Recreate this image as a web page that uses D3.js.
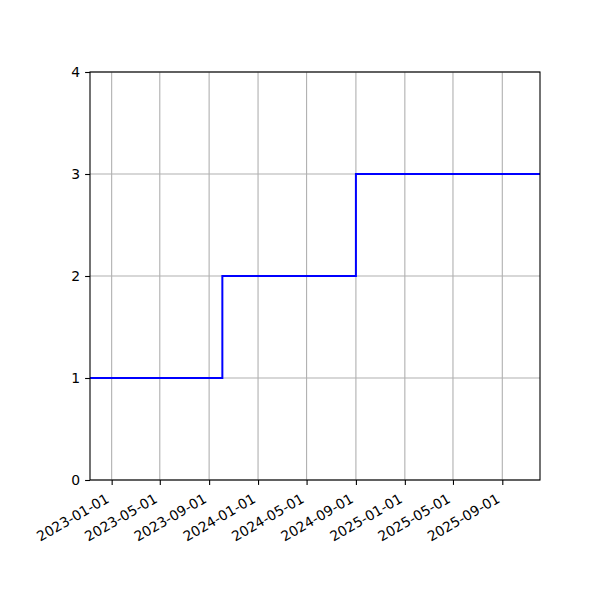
<!DOCTYPE html>
<html>
<head>
<meta charset="utf-8">
<script src="https://cdn.jsdelivr.net/npm/d3@7"></script>
<style>
  body { margin: 0; background: #fff; }
  text { font-family: "DejaVu Sans", sans-serif; }
</style>
</head>
<body>
<svg width="600" height="600"></svg>
<script>
// step data (value holds from each date until the next)
const stepDates = ["2022-11-08", "2023-10-04", "2024-09-01", "2025-12-04"];
const stepValues = [1, 2, 3, 3];
const xTickLabels = ["2023-01-01", "2023-05-01", "2023-09-01", "2024-01-01", "2024-05-01",
  "2024-09-01", "2025-01-01", "2025-05-01", "2025-09-01"];
const yTicks = [0, 1, 2, 3, 4];

const parse = d3.utcParse("%Y-%m-%d");
const data = stepDates.map((d, i) => ({ date: parse(d), value: stepValues[i] }));

const margin = { top: 72, right: 60, bottom: 120, left: 90 };
const width = 600 - margin.left - margin.right;
const height = 600 - margin.top - margin.bottom;

const svg = d3.select("svg");
const g = svg.append("g").attr("transform", `translate(${margin.left},${margin.top})`);

const x = d3.scaleUtc()
  .domain(d3.extent(data, (d) => d.date))
  .range([0, width]);
const y = d3.scaleLinear().domain([0, 4]).range([height, 0]);

// grid
g.append("g")
  .selectAll("line")
  .data(xTickLabels.map(parse))
  .enter()
  .append("line")
  .attr("x1", (d) => x(d)).attr("x2", (d) => x(d))
  .attr("y1", 0).attr("y2", height)
  .attr("stroke", "#b0b0b0").attr("stroke-width", 1.1);
g.append("g")
  .selectAll("line")
  .data(yTicks)
  .enter()
  .append("line")
  .attr("x1", 0).attr("x2", width)
  .attr("y1", (d) => y(d)).attr("y2", (d) => y(d))
  .attr("stroke", "#b0b0b0").attr("stroke-width", 1.1);

// step line
const line = d3.line()
  .x((d) => x(d.date))
  .y((d) => y(d.value))
  .curve(d3.curveStepAfter);
g.append("path")
  .datum(data)
  .attr("d", line)
  .attr("fill", "none")
  .attr("stroke", "#0000ff")
  .attr("stroke-width", 2);

// axes
const xAxis = g.append("g")
  .attr("transform", `translate(0,${height})`)
  .call(d3.axisBottom(x)
    .tickValues(xTickLabels.map(parse))
    .tickFormat(d3.utcFormat("%Y-%m-%d"))
    .tickSize(4.9).tickPadding(3.5));

const yAxis = g.append("g")
  .call(d3.axisLeft(y).tickValues(yTicks).tickFormat(d3.format("d"))
    .tickSize(4.9).tickPadding(4.9));

[xAxis, yAxis].forEach((a) => {
  a.select(".domain").remove();
  a.selectAll("line").attr("stroke", "#000").attr("stroke-width", 1.1);
  a.selectAll("text").style("font-size", "13.9px").attr("fill", "#000");
});

// rotated date labels, top-right corner under the tick (like autofmt_xdate)
xAxis.selectAll("text")
  .attr("x", 0).attr("y", 0).attr("dy", 0)
  .attr("text-anchor", "end")
  .attr("transform", "translate(-2,21.5) rotate(-30)");

// frame
g.append("rect")
  .attr("width", width).attr("height", height)
  .attr("fill", "none").attr("stroke", "#000").attr("stroke-width", 1.1);
</script>
</body>
</html>
